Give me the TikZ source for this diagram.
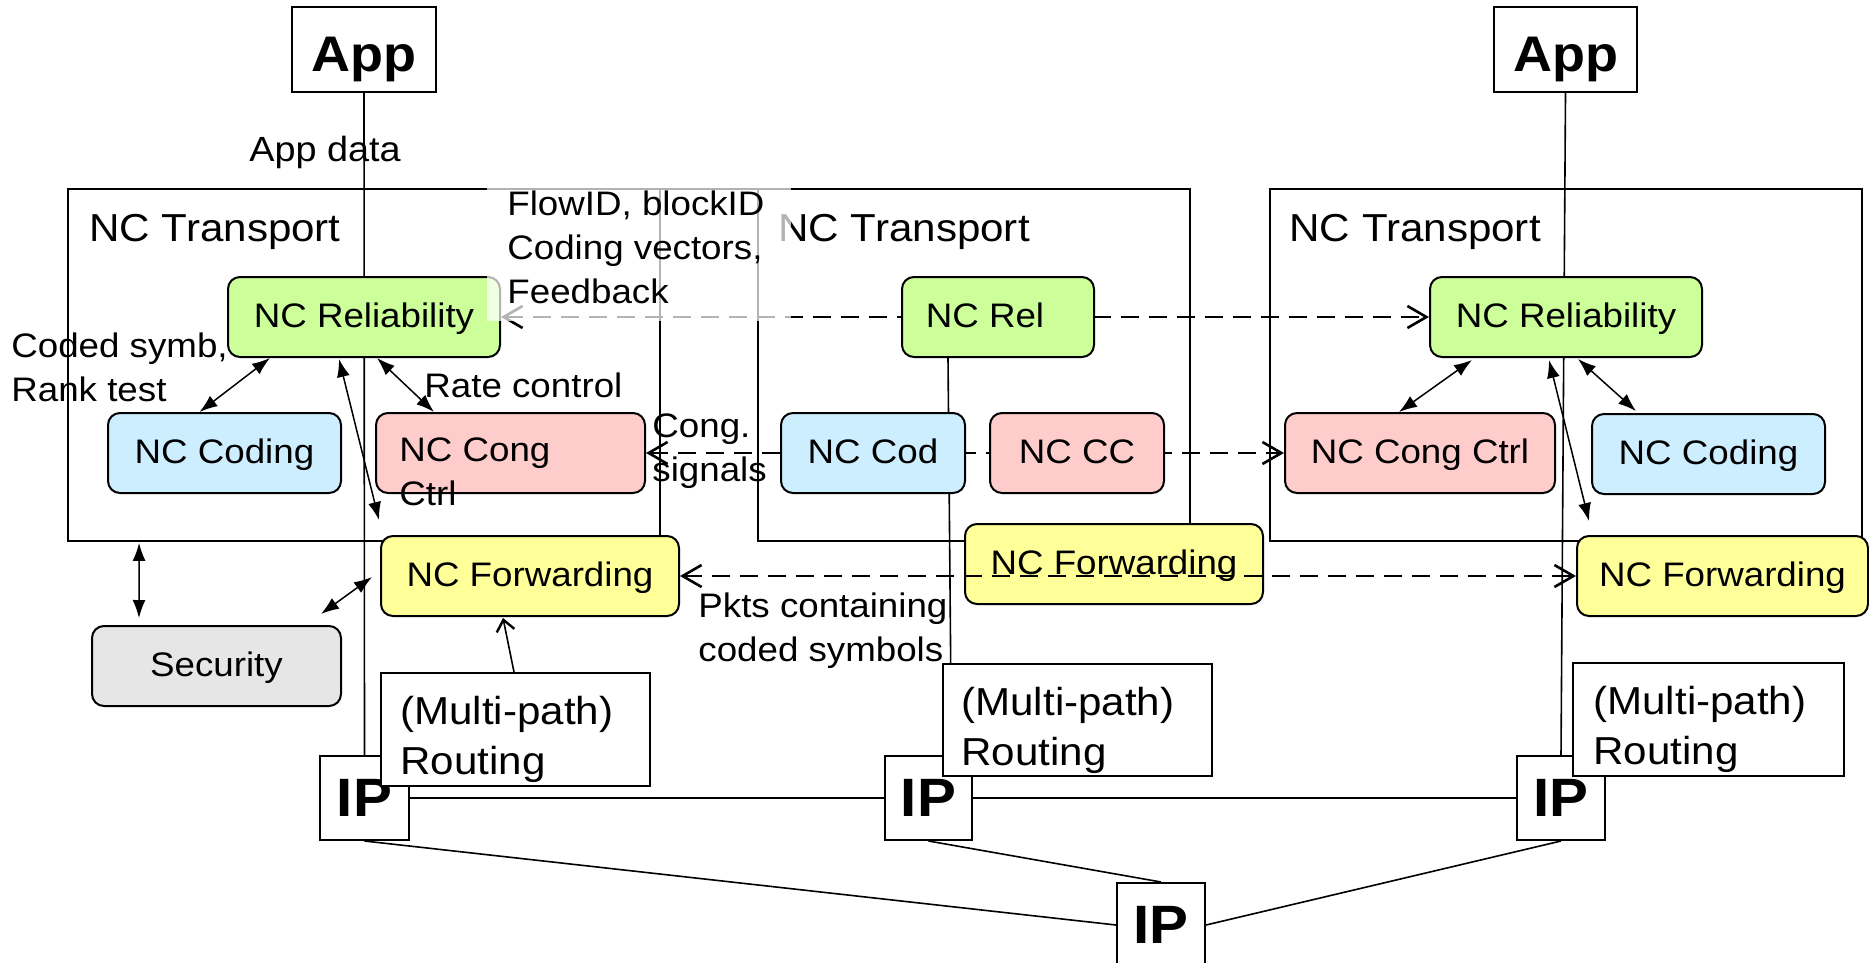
\documentclass[tikz,border=0pt]{standalone}
\usepackage{fontspec}
\setmainfont{Liberation Sans}[FakeStretch=1.08]
\usetikzlibrary{arrows.meta,calc}

\definecolor{relgreen}{RGB}{204,255,153}
\definecolor{codblue}{RGB}{204,238,255}
\definecolor{ccpink}{RGB}{255,204,204}
\definecolor{fwdyellow}{RGB}{255,255,153}
\definecolor{secgray}{RGB}{230,230,230}

\pgfdeclarelayer{bg}
\pgfdeclarelayer{back}
\pgfdeclarelayer{front}
\pgfsetlayers{bg,back,main,front}

\tikzset{
  lbl/.style={inner sep=0pt, font=\fontsize{17}{22}\selectfont, align=left},
  module/.style={draw=black, line width=1pt, rounded corners=6pt, inner sep=0pt,
    minimum height=40pt, font=\fontsize{17}{22}\selectfont, text height=13pt, text depth=3pt},
  layerbox/.style={draw=black, line width=0.9pt, inner sep=0pt, minimum height=176pt},
  plainbox/.style={draw=black, line width=1pt, fill=white, inner sep=0pt},
  appbox/.style={plainbox, minimum height=42.5pt, font=\bfseries\fontsize{25}{30}\selectfont,
    text height=22.5pt, text depth=0pt},
  ipbox/.style={plainbox, minimum height=42pt, font=\bfseries\fontsize{27}{30}\selectfont},
  routtext/.style={inner sep=0pt, font=\fontsize{19.5}{25}\selectfont, align=left, anchor=north west},
  titletext/.style={inner sep=0pt, font=\fontsize{19.5}{24}\selectfont, anchor=base west},
  wire/.style={draw=black, line width=0.8pt},
  link/.style={draw=black, line width=0.75pt,
    {Latex[length=9pt,width=6.5pt]}-{Latex[length=9pt,width=6.5pt]}},
  flow/.style={draw=black, line width=1pt, dash pattern=on 9pt off 5pt},
  openhead/.tip={Straight Barb[length=9.5pt,width=11pt,line width=1.3pt]},
}

\begin{document}
\begin{tikzpicture}[x=0.5pt,y=-0.5pt]
\useasboundingbox (0,0) rectangle (1869,963);
\clip (0,0) rectangle (1869,963);
\begin{pgfonlayer}{bg}
  \fill[white] (0,0) rectangle (1869,963);
\end{pgfonlayer}

% NC Transport frames
\node[layerbox, minimum width=296pt] (trL) at (364,365) {};
\node[layerbox, minimum width=216pt] (trM) at (974,365) {};
\node[layerbox, minimum width=296pt] (trR) at (1566,365) {};
\node[titletext] (trLt) at ($(trL.north west)+(22,53)$) {NC Transport};
\node[titletext] (trMt) at ($(trM.north west)+(21,53)$) {NC Transport};
\node[titletext] (trRt) at ($(trR.north west)+(20,53)$) {NC Transport};

% applications
\node[appbox, minimum width=72pt] (appL) at (364,49.5) {App};
\node[appbox, minimum width=71.5pt] (appR) at (1565.5,49.5) {App};

% left end host
\node[module, fill=relgreen, minimum width=136pt] (relL) at (364,317) {NC Reliability};
\node[module, fill=codblue, minimum width=116.5pt] (codL) at (224.5,453) {NC Coding};
\node[module, fill=ccpink, minimum width=134.5pt] (cngL) at (510.5,453) {};
\node[lbl, anchor=north west] (cngLt) at ($(cngL.north west)+(24,25)$) {NC Cong\\Ctrl};
\node[module, fill=fwdyellow, minimum width=149pt] (fwdL) at (530,576) {NC Forwarding};
\node[module, fill=secgray, minimum width=124.5pt] (sec) at (216.5,666) {Security};

% intermediate node
\node[module, fill=relgreen, minimum width=96pt] (relM) at (998,317) {NC Rel\hspace*{13pt}};
\node[module, fill=codblue, minimum width=92pt] (codM) at (873,453) {NC Cod};
\node[module, fill=ccpink, minimum width=87pt] (ccM) at (1077,453) {NC CC};
\node[module, fill=fwdyellow, minimum width=149pt] (fwdM) at (1114,564) {NC Forwarding};

% right end host
\node[module, fill=relgreen, minimum width=136pt] (relR) at (1566,317) {NC Reliability};
\node[module, fill=ccpink, minimum width=135pt] (cngR) at (1420,453) {NC Cong Ctrl};
\node[module, fill=codblue, minimum width=116.5pt] (codR) at (1708.5,454) {NC Coding};
\node[module, fill=fwdyellow, minimum width=145.5pt] (fwdR) at (1722.5,576) {NC Forwarding};

% IP layer
\node[ipbox, minimum width=44.5pt] (ipL) at (364.5,798) {IP};
\node[ipbox, minimum width=43.5pt] (ipM) at (928.5,798) {IP};
\node[ipbox, minimum width=44pt] (ipR) at (1561,798) {IP};
\node[ipbox, minimum width=44pt] (ipB) at (1161,925) {IP};

% routing
\node[plainbox, minimum width=134.5pt, minimum height=56.5pt] (routL) at (515.5,729.5) {};
\node[plainbox, minimum width=134.5pt, minimum height=56pt] (routM) at (1077.5,720) {};
\node[plainbox, minimum width=135.5pt, minimum height=56.5pt] (routR) at (1708.5,719.5) {};
\node[routtext] (routLt) at ($(routL.north west)+(20,24)$) {(Multi-path)\\Routing};
\node[routtext] (routMt) at ($(routM.north west)+(19,24)$) {(Multi-path)\\Routing};
\node[routtext] (routRt) at ($(routR.north west)+(21,24)$) {(Multi-path)\\Routing};

% wires and peer-to-peer signalling behind the modules
\begin{pgfonlayer}{back}
  \draw[wire] (appL.south) -- (ipL.north);
  \draw[wire] (appR.south) -- (ipR.north);
  \draw[wire] ($(relM.south west)+(47,0)$) -- ($(ipM.north)+(23,0)$);
  \draw[wire] (ipL.east) -- (ipM.west);
  \draw[wire] (ipM.east) -- (ipR.west);
  \draw[wire] (ipL.south) -- (ipB.west);
  \draw[wire] (ipM.south) -- (ipB.north);
  \draw[wire] (ipR.south) -- (ipB.east);
  \draw[flow, openhead-openhead] (relL.east) -- (relR.west);
  \draw[flow, openhead-openhead] (cngL.east) -- (cngR.west);
\end{pgfonlayer}

% local interactions
\draw[link] ($(codL.north)+(-25,0)$) -- ($(relL.south west)+(43,0)$);
\draw[link] ($(relL.south)+(13,0)$) -- ($(cngL.north west)+(59,0)$);
\draw[link] ($(relL.south)+(-25,1)$) -- ($(fwdL.north west)+(-1,-15)$);
\draw[link] ($(trL.south west)+(72,1)$) -- ($(sec.north west)+(48,-7)$);
\draw[link] ($(sec.north east)+(-21,-11)$) -- ($(fwdL.west)+(-8,1)$);
\draw[link] ($(relR.south)+(-94,2)$) -- ($(cngR.north)+(-21,0)$);
\draw[link] ($(relR.south)+(12,1)$) -- ($(codR.north west)+(45,-2)$);
\draw[link] ($(relR.south)+(-17,2)$) -- ($(fwdR.north west)+(13,-14)$);
\draw[wire, -{Straight Barb[length=5.5pt,width=9pt,line width=1.2pt]}]
  ($(routL.north west)+(134,0)$) -- ($(fwdL.south)+(-27,1)$);
\draw[flow, openhead-openhead] (fwdL.east) -- (fwdR.west);

% labels
\node[lbl, font=\fontsize{17.5}{22}\selectfont, anchor=base] (appdata) at (325,162) {App data};
\node[lbl, anchor=north west] (codedlbl) at (11,332) {Coded symb,\\Rank test};
\node[lbl, anchor=base west] (ratelbl) at (424,397) {Rate control};
\node[lbl, anchor=north west] (conglbl) at (652,413) {Cong.\\signals};
\node[lbl, anchor=north west] (pktslbl) at (698,592) {Pkts containing\\coded symbols};

% semi-transparent label panel
\begin{pgfonlayer}{front}
  \fill[white, opacity=0.7] (487,187) rectangle (791,321);
  \draw[black!30, line width=0.9pt] (487,189) -- (791,189);
  \node[lbl, anchor=north west] (flowlbl) at (507,190) {FlowID, blockID\\Coding vectors,\\Feedback};
\end{pgfonlayer}
\end{tikzpicture}
\end{document}
